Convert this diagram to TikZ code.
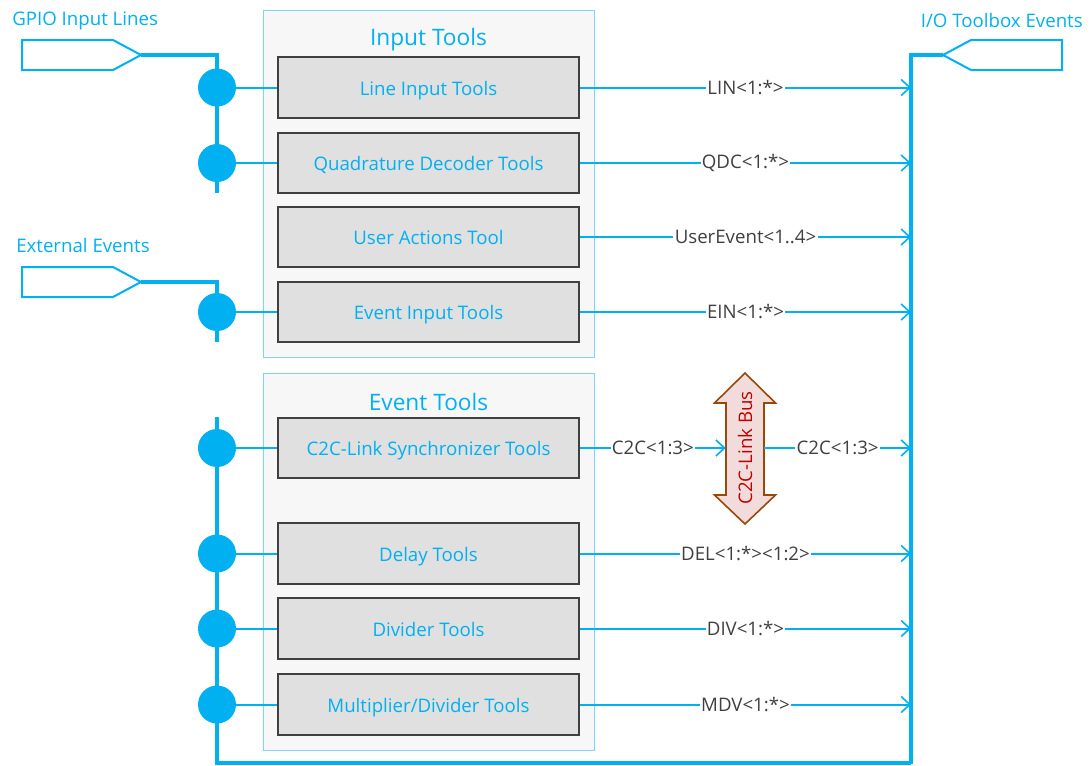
\documentclass[tikz,border=0pt]{standalone}
\usepackage{fontspec}
\setmainfont{Open Sans}
\usetikzlibrary{arrows.meta}
\definecolor{cblue}{HTML}{00B0F0}
\definecolor{clight}{HTML}{7FD3F7}
\definecolor{boxfill}{HTML}{E0E0E0}
\definecolor{boxdraw}{HTML}{404040}
\definecolor{contfill}{HTML}{F7F7F7}
\definecolor{lbl}{HTML}{404040}
\definecolor{busfill}{HTML}{F2DCDB}
\definecolor{busdraw}{HTML}{984807}
\definecolor{busred}{HTML}{C00000}
\begin{document}
\begin{tikzpicture}[x=0.75pt,y=-0.75pt,
 tool/.style={draw=boxdraw, fill=boxfill, line width=1.5pt, minimum width=225.75pt, minimum height=45.5pt, inner sep=0pt, text height=14pt, text depth=2.3pt, font=\fontsize{14}{16}\selectfont, text=cblue},
 cont/.style={draw=clight, fill=contfill, line width=0.75pt, minimum width=248.25pt, inner sep=0pt},
 ttl/.style={font=\fontsize{17}{20}\selectfont, text=cblue, inner sep=0pt},
 lab/.style={font=\fontsize{14}{16}\selectfont, text=cblue, inner sep=0pt},
 sig/.style={fill=white, inner sep=1pt, text=lbl, font=\fontsize{14}{16}\selectfont},
 dot/.style={circle, fill=cblue, minimum size=28.5pt, inner sep=0pt},
 tap/.style={draw=cblue, line width=1.5pt},
 feed/.style={draw=cblue, line width=2.4pt},
 flow/.style={draw=cblue, line width=1.5pt, -{Straight Barb[length=6.5pt,width=12pt,line width=1.2pt]}},
 port/.style={draw=cblue, fill=white, line width=1.5pt}]
\useasboundingbox (0,0) rectangle (1090,765);

% containers
\node[cont, minimum height=260.25pt] (inbox) at (428.5,183.5) {};
\node[cont, minimum height=282.75pt] (evbox) at (428.5,561.5) {};
\node[ttl] (inttl) at (428.5,40) {Input Tools};
\node[ttl] (evttl) at (428.5,402) {Event Tools};

% tools
\node[tool] (lin) at (428.5,87.5) {Line Input Tools};
\node[tool] (quad) at (428.5,163) {Quadrature Decoder Tools};
\node[tool] (user) at (428.5,237) {User Actions Tool};
\node[tool] (ein) at (428.5,312) {Event Input Tools};
\node[tool] (c2c) at (428.5,448) {C2C-Link Synchronizer Tools};
\node[tool] (del) at (428.5,553.5) {Delay Tools};
\node[tool] (div) at (428.5,628.5) {Divider Tools};
\node[tool] (mdv) at (428.5,704.5) {Multiplier/Divider Tools};

% outer labels
\node[lab, anchor=west] (gpiolbl) at (12,20.5) {GPIO Input Lines};
\node[lab, anchor=west] (extlbl) at (16,245.5) {External Events};
\node[lab, anchor=east] (iolbl) at (1083,20.5) {I/O Toolbox Events};

% ports
\draw[port] (22,40) -- (113,40) -- (141,55) -- (113,70) -- (22,70) -- cycle;
\coordinate (gpiotip) at (141,55);
\draw[port] (22,267) -- (113,267) -- (141,282) -- (113,297) -- (22,297) -- cycle;
\coordinate (exttip) at (141,282);
\draw[port] (943,55) -- (971,40) -- (1062,40) -- (1062,70) -- (971,70) -- cycle;
\coordinate (iotip) at (943,55);
\coordinate (busTop) at (911,55);
\coordinate (busBot) at (911,764);

% left rails
\coordinate (r1top) at (217,55);
\coordinate (r1bot) at (217,193);
\draw[feed] (gpiotip) -- (r1top) -- (r1bot);
\coordinate (r2top) at (217,282);
\coordinate (r2bot) at (217,342);
\draw[feed] (exttip) -- (r2top) -- (r2bot);
\coordinate (r3top) at (217,417);
\coordinate (r3bot) at (217,763);
\draw[feed] (r3top) -- (r3bot) -- (r3bot -| busBot);

% dots and taps
\foreach \n/\t in {d1/lin,d2/quad,d3/ein,d4/c2c,d5/del,d6/div,d7/mdv}{
  \node[dot] (\n) at (\t.west -| r1top) {};
  \draw[tap] (\n.east) -- (\t.west);
}

% C2C link bus
\draw[fill=busfill, draw=busdraw, line width=1.2pt] (745,373) -- (775.5,403) -- (764,403) -- (764,495) -- (775.5,495) -- (745,524) -- (714.5,495) -- (726,495) -- (726,403) -- (714.5,403) -- cycle;
\node[minimum width=28.5pt, minimum height=113.25pt, inner sep=0pt, font=\fontsize{14}{16}\selectfont, text=busred] (c2cbus) at (745,448) {\rotatebox{90}{C2C-Link Bus}};

% flows
\draw[flow] (lin.east) -- node[sig]{LIN<1:*>} (lin.east -| busTop);
\draw[flow] (quad.east) -- node[sig]{QDC<1:*>} (quad.east -| busTop);
\draw[flow] (user.east) -- node[sig]{UserEvent<1..4>} (user.east -| busTop);
\draw[flow] (ein.east) -- node[sig]{EIN<1:*>} (ein.east -| busTop);
\draw[flow] (c2c.east) -- node[sig]{C2C<1:3>} (c2cbus.west);
\draw[flow] (c2cbus.east) -- node[sig]{C2C<1:3>} (c2cbus.east -| busTop);
\draw[flow] (del.east) -- node[sig]{DEL<1:*><1:2>} (del.east -| busTop);
\draw[flow] (div.east) -- node[sig]{DIV<1:*>} (div.east -| busTop);
\draw[flow] (mdv.east) -- node[sig]{MDV<1:*>} (mdv.east -| busTop);

% right bus
\draw[draw=cblue, line width=3pt] (iotip) -- (busTop) -- (busBot);
\end{tikzpicture}
\end{document}
